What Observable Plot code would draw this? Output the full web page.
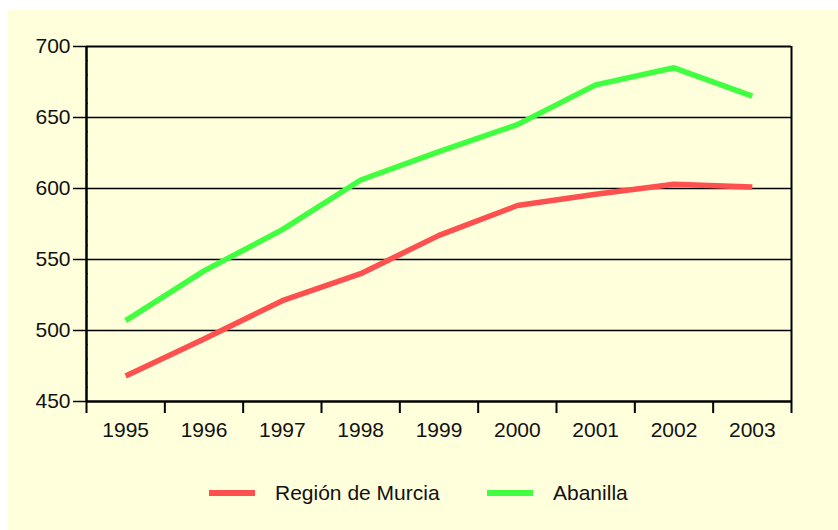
<!DOCTYPE html>
<html>
<head>
<meta charset="utf-8">
<script src="https://cdn.jsdelivr.net/npm/d3@7"></script>
<script src="https://cdn.jsdelivr.net/npm/@observablehq/plot@0.6"></script>
<style>
  html, body { margin: 0; padding: 0; background: #ffffff; }
  #wrap { position: absolute; left: 8px; top: 10px; width: 830px; height: 520px; background: #FFFFDC;
          font-family: "Liberation Sans", Arial, sans-serif; }
  #chart { position: absolute; left: 0; top: 0; }
  .leg { position: absolute; top: 471px; height: 24px; display: flex; align-items: center; font-size: 21px; color: #111; }
  .sw { display: inline-block; width: 46px; height: 6px; margin-right: 20px; }
</style>
</head>
<body>
<div id="wrap">
  <div id="chart"></div>
  <div class="leg" style="left:201px"><span class="sw" style="background:#FF5050"></span>Región de Murcia</div>
  <div class="leg" style="left:479px"><span class="sw" style="background:#40FF40"></span>Abanilla</div>
</div>
<script>
const years = [1995, 1996, 1997, 1998, 1999, 2000, 2001, 2002, 2003];
const murcia = [468, 494, 521, 540, 567, 588, 596, 603, 601];
const abanilla = [507, 542, 571, 606, 626, 645, 673, 685, 665];
const seriesNames = ["Región de Murcia", "Abanilla"];
const seriesColors = ["#FF5050", "#40FF40"];
const yTicks = [450, 500, 550, 600, 650, 700];

const data = [];
years.forEach((y, i) => {
  data.push({year: y, value: murcia[i], series: seriesNames[0]});
  data.push({year: y, value: abanilla[i], series: seriesNames[1]});
});
const bounds = d3.range(years.length + 1).map(i => years[0] - 0.5 + i);
const minor = d3.range(460, 700, 10).filter(v => v % 50 !== 0);

const plot = Plot.plot({
  width: 830,
  height: 440,
  marginLeft: 78,
  marginRight: 47,
  marginTop: 36,
  marginBottom: 49,
  style: {background: "transparent", fontSize: "21px", fontFamily: "Liberation Sans, Arial, sans-serif", color: "#111"},
  x: {domain: [years[0] - 0.5, years[years.length - 1] + 0.5]},
  y: {domain: [450, 700]},
  color: {domain: seriesNames, range: seriesColors},
  marks: [
    Plot.ruleY(yTicks.slice(1, -1), {stroke: "#000", strokeWidth: 1.5}),
    Plot.axisY({ticks: minor, tickSize: -2, tickFormat: () => "", stroke: "#000", strokeWidth: 1, label: null}),
    Plot.axisY({ticks: yTicks, tickSize: 13, tickPadding: 3, stroke: "#000", strokeWidth: 1.5, label: null, fill: "#111"}),
    Plot.axisX({ticks: bounds, tickSize: 12, tickFormat: () => "", stroke: "#000", strokeWidth: 2, label: null}),
    Plot.axisX({ticks: years, tickSize: 0, tickPadding: 21, tickFormat: d => String(d), label: null, fill: "#111"}),
    Plot.line(data, {x: "year", y: "value", z: "series", stroke: "series", strokeWidth: 5.5, strokeLinejoin: "miter", strokeLinecap: "butt"}),
    Plot.ruleY([700], {stroke: "#000", strokeWidth: 2}),
    Plot.ruleY([450], {stroke: "#000", strokeWidth: 2.5}),
    Plot.ruleX([bounds[0]], {stroke: "#000", strokeWidth: 2.5}),
    Plot.ruleX([bounds[bounds.length - 1]], {stroke: "#000", strokeWidth: 2})
  ]
});
document.getElementById("chart").appendChild(plot);
</script>
</body>
</html>
